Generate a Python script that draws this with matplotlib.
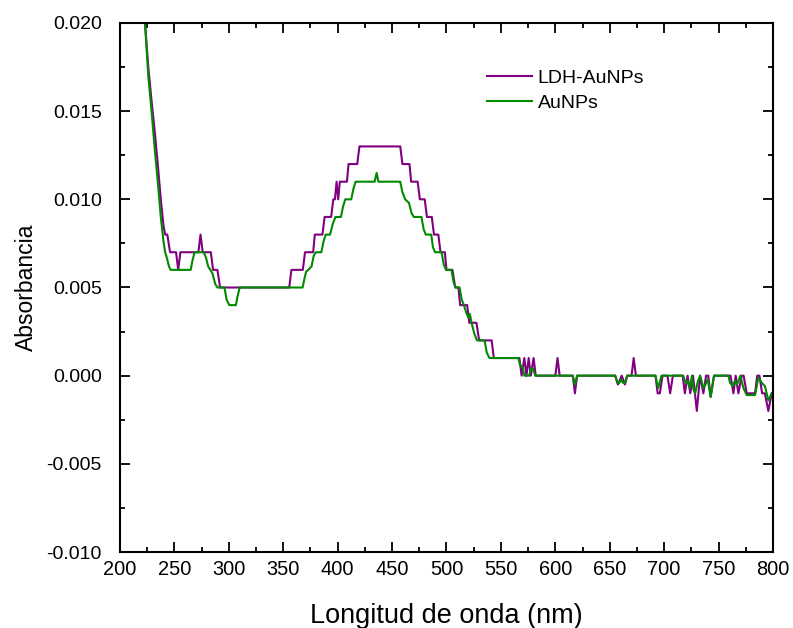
import matplotlib
matplotlib.use("Agg")
import matplotlib.pyplot as plt
from matplotlib.ticker import MultipleLocator, FormatStrFormatter

plt.rcParams['font.family'] = ['Liberation Sans', 'DejaVu Sans']
plt.rcParams['axes.unicode_minus'] = False

# LDH-AuNPs (step-like spectrum)
wl_ldh = [220, 223, 226, 229, 232, 235, 237.5, 240, 241.5, 243.5, 246, 251.5, 253.5, 255.5,
          272, 274, 276, 283.5, 285.5, 289.5, 292, 355.5, 357.5, 368, 370, 377.5, 379, 386,
          388, 394, 396, 397.5, 399, 400.5, 402, 408.5, 410, 418, 420, 457.5, 459.5, 466,
          467.5, 473.5, 475.5, 480, 482, 486.5, 488.5, 492.5, 494.5, 498.5, 500, 505.5, 508,
          511, 512.5, 519, 521, 527.5, 530, 541.5, 543.5, 567, 569, 571.5, 573.5, 575.5,
          577.5, 580, 582, 600, 602, 604, 616, 618, 620, 655, 657.5, 661, 664, 666, 670, 672,
          674, 692, 694, 696, 698.5, 703, 705.5, 708, 717, 719, 721.5, 724, 726.5, 730, 733,
          736, 738.5, 740.5, 742.7, 745.8, 761, 763.6, 765.7, 768.2, 771.2, 773, 775.8,
          783.5, 785.5, 787.5, 790, 792.5, 795.7, 798.8, 800]
abs_ldh = [0.0235, 0.0200, 0.0175, 0.0156, 0.0138, 0.0118, 0.0100, 0.0085, 0.0080, 0.0080,
           0.0070, 0.0070, 0.0060, 0.0070, 0.0070, 0.0080, 0.0070, 0.0070, 0.0060, 0.0060,
           0.0050, 0.0050, 0.0060, 0.0060, 0.0070, 0.0070, 0.0080, 0.0080, 0.0090, 0.0090,
           0.0100, 0.0100, 0.0110, 0.0100, 0.0110, 0.0110, 0.0120, 0.0120, 0.0130, 0.0130,
           0.0120, 0.0120, 0.0110, 0.0110, 0.0100, 0.0100, 0.0090, 0.0090, 0.0080, 0.0080,
           0.0070, 0.0070, 0.0060, 0.0060, 0.0050, 0.0050, 0.0040, 0.0040, 0.0030, 0.0030,
           0.0020, 0.0020, 0.0010, 0.0010, 0.0000, 0.0010, 0.0000, 0.0010, 0.0000, 0.0010,
           0.0000, 0.0000, 0.0010, 0.0000, 0.0000, -0.0010, 0.0000, 0.0000, -0.0005, 0.0000,
           -0.0005, 0.0000, 0.0000, 0.0010, 0.0000, 0.0000, -0.0010, -0.0010, 0.0000, 0.0000,
           -0.0010, 0.0000, 0.0000, -0.0010, 0.0000, -0.0010, 0.0000, -0.0020, 0.0000,
           -0.0010, 0.0000, 0.0000, -0.0012, 0.0000, 0.0000, -0.0010, 0.0000, -0.0010, 0.0000,
           0.0000, -0.0010, -0.0010, 0.0000, 0.0000, -0.0010, -0.0010, -0.0020, -0.0010,
           -0.0010]

# AuNPs
wl_au = [220, 223, 226, 229, 232, 235, 237.5, 240, 241.5, 243, 245, 246.5, 265, 266.5, 268.5,
         277, 279, 281, 283, 285, 287.5, 289.5, 296, 298, 300.5, 306.5, 308, 310, 367.8,
         369.5, 371, 373, 376, 378, 380, 385, 387, 389, 393, 395.5, 398, 403, 405, 407,
         412.5, 414.5, 416.5, 434, 435.8, 437.5, 457.5, 459.5, 462, 465.5, 468, 470, 477, 479,
         481, 486, 487.5, 489.5, 495.5, 497.5, 499.5, 504.5, 506.5, 508.5, 512, 514, 516, 518,
         520, 521.5, 523, 525.5, 528, 535, 537, 539.5, 566, 567.5, 570, 571.5, 576, 577.5,
         579.5, 581.5, 616, 618, 620, 655, 657, 659, 660.5, 662, 664, 666, 692, 694.5, 697.5,
         717.5, 719.5, 721.5, 723.5, 725.5, 727, 728.5, 731, 733, 736, 738, 740, 742.7, 745.8,
         759, 760.5, 763, 765, 767, 770, 772.8, 775.8, 783.5, 786.5, 789.6, 792.6, 795.7,
         798.8, 800]
abs_au = [0.0235, 0.0200, 0.0170, 0.0150, 0.0128, 0.0108, 0.0090, 0.0076, 0.0070, 0.0067,
          0.0062, 0.0060, 0.0060, 0.0065, 0.0070, 0.0070, 0.0067, 0.0062, 0.0060, 0.0058,
          0.0052, 0.0050, 0.0050, 0.0043, 0.0040, 0.0040, 0.0045, 0.0050, 0.0050, 0.0055,
          0.0059, 0.0060, 0.0062, 0.0068, 0.0070, 0.0070, 0.0076, 0.0080, 0.0080, 0.0086,
          0.0090, 0.0090, 0.0096, 0.0100, 0.0100, 0.0106, 0.0110, 0.0110, 0.0115, 0.0110,
          0.0110, 0.0104, 0.0100, 0.0098, 0.0092, 0.0090, 0.0090, 0.0083, 0.0080, 0.0080,
          0.0073, 0.0070, 0.0070, 0.0063, 0.0060, 0.0060, 0.0053, 0.0050, 0.0050, 0.0043,
          0.0040, 0.0036, 0.0033, 0.0035, 0.0030, 0.0024, 0.0020, 0.0020, 0.0013, 0.0010,
          0.0010, 0.0006, 0.0005, 0.0000, 0.0000, 0.0004, 0.0004, 0.0000, 0.0000, -0.0005,
          0.0000, 0.0000, -0.0004, -0.0004, -0.0002, -0.0004, -0.0004, 0.0000, 0.0000,
          -0.0007, 0.0000, 0.0000, -0.0004, -0.0003, -0.0007, 0.0000, -0.0008, -0.0010,
          -0.0003, 0.0000, -0.0007, -0.0005, -0.0002, -0.0012, 0.0000, 0.0000, -0.0004,
          -0.0006, -0.0003, -0.0005, 0.0000, -0.0007, -0.0011, -0.0011, -0.0001, -0.0004,
          -0.0006, -0.0014, -0.0010, -0.0010]

series_names = ['LDH-AuNPs', 'AuNPs']
series_colors = ['#800080', '#008a00']

fig = plt.figure(figsize=(7.93, 6.28), dpi=100)
ax = fig.add_axes([0.1513, 0.121, 0.8235, 0.8424])

ax.plot(wl_ldh, abs_ldh, color=series_colors[0], lw=1.5, label=series_names[0])
ax.plot(wl_au, abs_au, color=series_colors[1], lw=1.5, label=series_names[1])

ax.set_xlim(200, 800)
ax.set_ylim(-0.010, 0.020)
ax.xaxis.set_major_locator(MultipleLocator(50))
ax.xaxis.set_minor_locator(MultipleLocator(25))
ax.yaxis.set_major_locator(MultipleLocator(0.005))
ax.yaxis.set_minor_locator(MultipleLocator(0.0025))
ax.yaxis.set_major_formatter(FormatStrFormatter('%.3f'))

for s in ax.spines.values():
    s.set_linewidth(1.5)
ax.tick_params(which='both', direction='in', top=True, right=True, width=1.3)
ax.tick_params(which='major', length=7)
ax.tick_params(which='minor', length=3.5)
ax.tick_params(axis='x', labelsize=14.4, pad=6)
ax.tick_params(axis='y', labelsize=14, pad=13)

ax.set_xlabel('Longitud de onda (nm)', fontsize=19.5, labelpad=17)
ax.set_ylabel('Absorbancia', fontsize=16.5, labelpad=6)

ax.legend(loc='upper left', bbox_to_anchor=(0.562, 0.913), frameon=False,
          fontsize=14, handlelength=2.3, handletextpad=0.3, labelspacing=0.4,
          borderpad=0, borderaxespad=0)

fig.savefig('out.png', dpi=100)
